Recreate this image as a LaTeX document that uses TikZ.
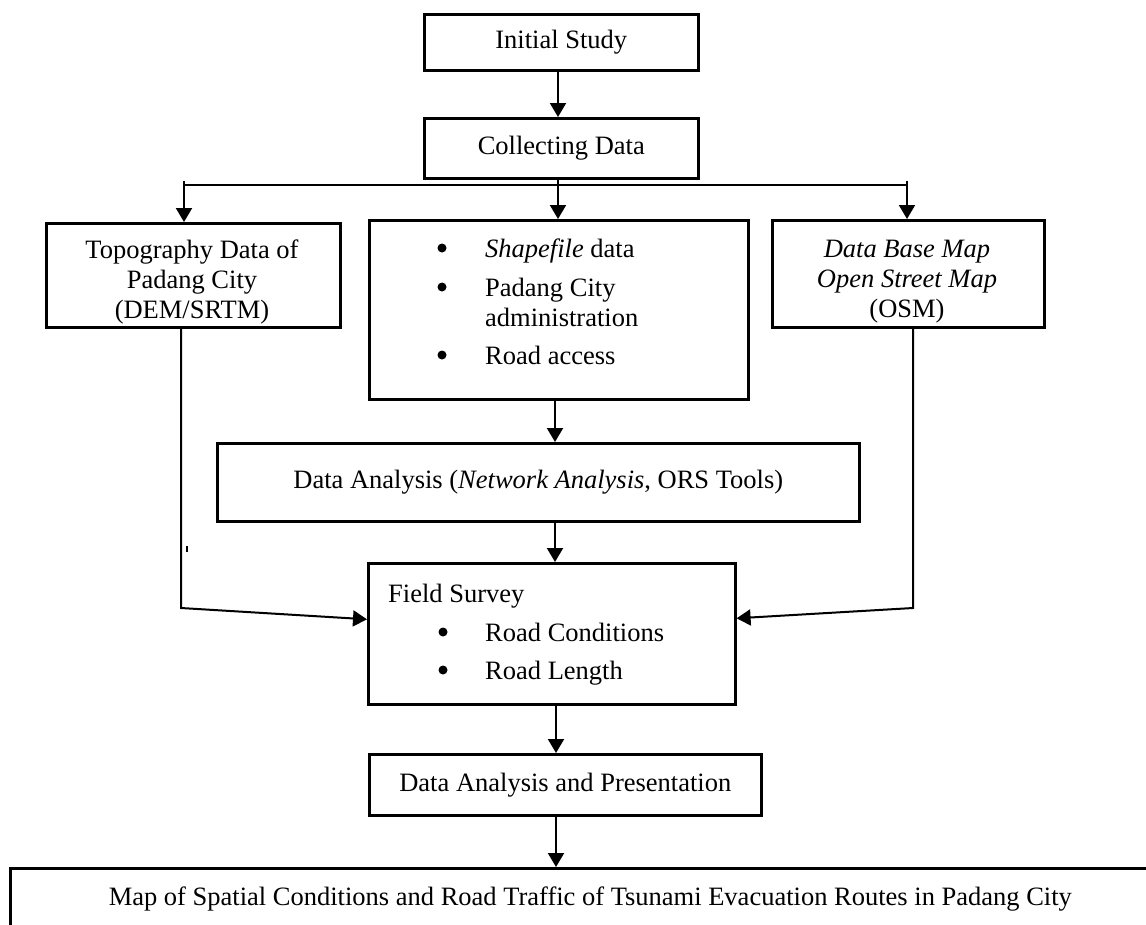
\documentclass[tikz,border=0pt]{standalone}
\usepackage{fontspec}
\setmainfont{Liberation Serif}
\usetikzlibrary{arrows.meta}
\begin{document}
\begin{tikzpicture}[x=1pt,y=-1pt,
  box/.style={draw,line width=2.6pt,inner sep=0pt,anchor=north west,align=center,
    font=\fontsize{26.5}{30.5}\selectfont},
  ctxt/.style={inner sep=0pt,align=center,font=\fontsize{26.5}{30}\selectfont},
  txt/.style={inner sep=0pt,anchor=base west,font=\fontsize{26.5}{30.5}\selectfont},
  bul/.style={circle,fill,inner sep=0pt,minimum size=9pt},
  conn/.style={line width=2pt,-{Triangle[length=14pt,width=16pt]}},
  bar/.style={line width=1.4pt},
]
\useasboundingbox (0,0) rectangle (1146,924);
\fill[white] (0,0) rectangle (1146,924);

% boxes
\node[box,minimum width=274pt,minimum height=56pt] (init) at (423,13) {Initial Study};
\node[box,minimum width=274pt,minimum height=60pt] (coll) at (423,117) {Collecting Data};
\node[box,minimum width=294pt,minimum height=104pt] (topo) at (45,222) {};
\node[ctxt] (topotxt) at (192,282) {Topography Data of\\Padang City\\(DEM/SRTM)};
\node[box,minimum width=379pt,minimum height=179pt] (mid) at (368,219) {};
\node[box,minimum width=272pt,minimum height=107pt] (osm) at (771,219) {};
\node[ctxt] (osmtxt) at (907,282) {\textit{Data Base Map}\\\textit{Open Street Map}\\(OSM)};
\node[box,minimum width=642pt,minimum height=78pt] (da) at (216,442)
  {Data Analysis (\textit{Network Analysis}, ORS Tools)};
\node[box,minimum width=367pt,minimum height=141pt] (fs) at (367,562) {};
\node[box,minimum width=392pt,minimum height=61pt] (dap) at (368,753)
  {Data Analysis and Presentation};
\node[box,minimum width=1160pt,minimum height=62pt] (fin) at (9,867)
  {Map of Spatial Conditions and Road Traffic of Tsunami Evacuation Routes in Padang City};

% middle box text
\node[bul] (b1) at (442,248) {};
\node[txt] (m1) at (485,257) {\textit{Shapefile} data};
\node[bul] (b2) at (442,287) {};
\node[txt] (m2) at (485,296) {Padang City};
\node[txt] (m3) at (485,326) {administration};
\node[bul] (b3) at (442,355) {};
\node[txt] (m4) at (485,364) {Road access};

% field survey text
\node[txt] (f0) at (388,602) {Field Survey};
\node[bul] (fb1) at (443,632) {};
\node[txt] (f1) at (485,641) {Road Conditions};
\node[bul] (fb2) at (443,670) {};
\node[txt] (f2) at (485,679) {Road Length};

% connectors
\coordinate (hl) at (184,185);
\coordinate (hr) at (907,185);
\draw[conn] (init.south -| 558,0) -- (coll.north -| 558,0);
\draw[bar] (hl) -- (hr);
\draw[conn] (coll.south -| 558,0) -- (mid.north -| 558,0);
\draw[conn] ([yshift=4pt]hl) -- (hl |- topo.north);
\draw[conn] ([yshift=4pt]hr) -- (hr |- osm.north);
\draw[conn] (mid.south -| 555,0) -- (da.north -| 555,0);
\draw[conn] (da.south -| 555,0) -- (fs.north -| 555,0);
\draw[conn] (fs.south -| 556,0) -- (dap.north -| 556,0);
\draw[conn] (dap.south -| 556,0) -- (fin.north -| 556,0);

\coordinate (lc) at (181,608);
\coordinate (rc) at (913,608);
\draw[conn] (topo.south -| lc) -- (lc) -- ([yshift=14.5pt]fs.west);
\draw[conn] (osm.south -| rc) -- (rc) -- ([yshift=15.5pt]fs.east);

% stray mark
\fill (186,546) rectangle (188,552);
\end{tikzpicture}
\end{document}
